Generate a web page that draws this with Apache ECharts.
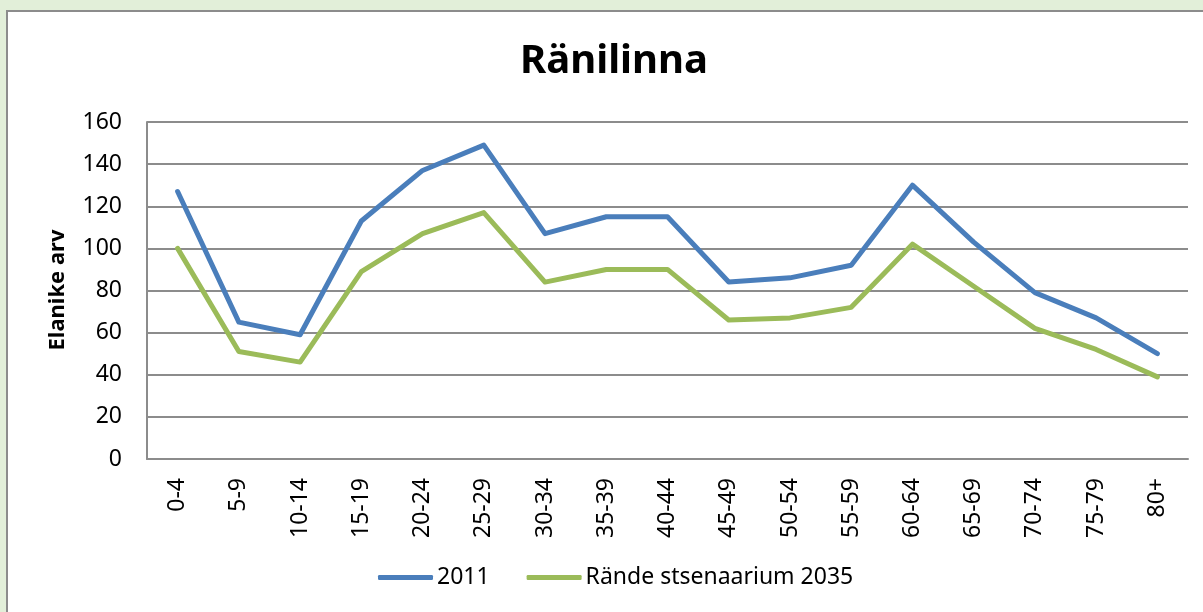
<!DOCTYPE html>
<html>
<head>
<meta charset="utf-8">
<script src="https://cdn.jsdelivr.net/npm/echarts@6/dist/echarts.min.js"></script>
<style>
  html, body { margin: 0; padding: 0; }
  body { width: 1203px; height: 612px; background: #e2efd9; position: relative; overflow: hidden; }
  #frame { position: absolute; left: 6px; top: 10px; width: 1220px; height: 640px; background: #ffffff;
           border-left: 2px solid #8c8c8c; border-top: 2px solid #8c8c8c; }
  #chart { position: absolute; left: 0; top: 0; width: 1203px; height: 612px; }
</style>
</head>
<body>
<div id="frame"></div>
<div id="chart"></div>
<script>
const titleText = 'Ränilinna';
const yAxisName = 'Elanike arv';
const categories = ['0-4','5-9','10-14','15-19','20-24','25-29','30-34','35-39','40-44','45-49','50-54','55-59','60-64','65-69','70-74','75-79','80+'];
const series2011 = [127, 65, 59, 113, 137, 149, 107, 115, 115, 84, 86, 92, 130, 103, 79, 67, 50];
const series2035 = [100, 51, 46, 89, 107, 117, 84, 90, 90, 66, 67, 72, 102, 82, 62, 52, 39];
const seriesNames = ['2011', 'Rände stsenaarium 2035'];
const yTicks = { min: 0, max: 160, interval: 20 };

const font = '"Noto Sans", "Open Sans", sans-serif';
const chart = echarts.init(document.getElementById('chart'), null, { renderer: 'canvas' });
chart.setOption({
  backgroundColor: 'transparent',
  animation: false,
  title: {
    text: titleText, left: 609, top: 37, textAlign: 'center',
    textStyle: { fontFamily: font, fontWeight: 'bold', fontSize: 40, color: '#000' }
  },
  grid: { left: 147, top: 122, right: 15, bottom: 153 },
  legend: {
    left: 378, top: 566, padding: 0, itemWidth: 55, itemHeight: 5, itemGap: 37,
    icon: 'roundRect',
    textStyle: { fontFamily: font, fontSize: 23, color: '#000', padding: [0, 0, 0, -1] },
    data: seriesNames
  },
  graphic: [{
    type: 'text', x: 58, y: 290, rotation: Math.PI / 2,
    style: { text: yAxisName, fontFamily: font, fontWeight: 'bold', fontSize: 22, fill: '#000',
             textAlign: 'center', textVerticalAlign: 'middle' }
  }],
  xAxis: {
    type: 'category', data: categories, boundaryGap: true,
    axisLine: { lineStyle: { color: '#8c8c8c', width: 2 } },
    axisTick: { show: false },
    axisLabel: { rotate: 90, margin: 19, fontFamily: font, fontSize: 23, color: '#000', interval: 0 }
  },
  yAxis: {
    type: 'value', min: yTicks.min, max: yTicks.max, interval: yTicks.interval,
    axisLine: { show: true, lineStyle: { color: '#8c8c8c', width: 2 } },
    axisTick: { show: false },
    splitLine: { lineStyle: { color: '#8c8c8c', width: 2 } },
    axisLabel: { margin: 25, fontFamily: font, fontSize: 23, color: '#000' }
  },
  series: [
    { name: seriesNames[0], type: 'line', data: series2011, showSymbol: false, symbol: 'none',
      color: '#4a7ebb', lineStyle: { color: '#4a7ebb', width: 5, cap: 'round', join: 'round' } },
    { name: seriesNames[1], type: 'line', data: series2035, showSymbol: false, symbol: 'none',
      color: '#9bbb59', lineStyle: { color: '#9bbb59', width: 5, cap: 'round', join: 'round' } }
  ]
});
</script>
</body>
</html>
